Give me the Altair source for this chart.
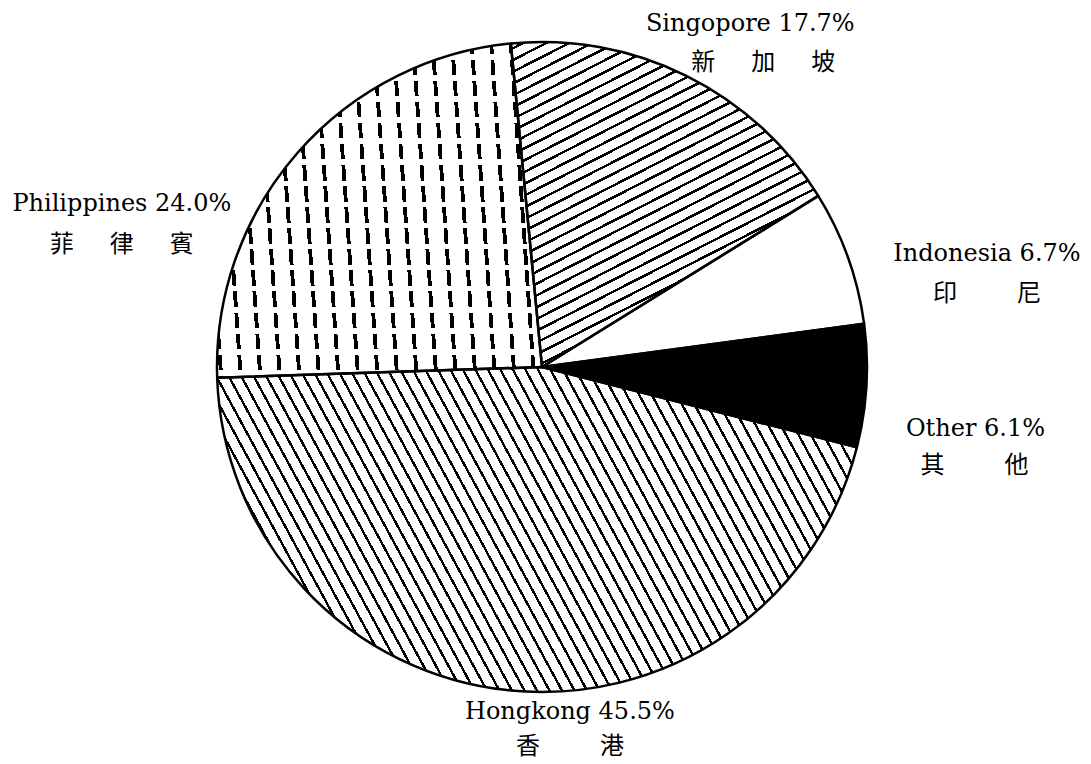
import math
import altair as alt
import pandas as pd

# ---- data ----
countries = ["Singapore", "Indonesia", "Other", "Hongkong", "Philippines"]
display_names = ["Singopore", "Indonesia", "Other", "Hongkong", "Philippines"]
shares = [17.7, 6.7, 6.1, 45.5, 24.0]
chinese_names = ["新加坡", "印尼", "其他", "香港", "菲律賓"]
order = [1, 2, 3, 4, 5]


def spaced(s):
    gap = "\u3000\u2002" if len(s) >= 3 else "\u3000\u3000\u2002"
    return gap.join(list(s))


df = pd.DataFrame({
    "country": countries,
    "share": shares,
    "order": order,
    "latin": [f"{n} {v:.1f}%" for n, v in zip(display_names, shares)],
    "chinese": [spaced(s) for s in chinese_names],
})

# ---- layout / style ----
CX, CY, R = 534, 359, 325
START = math.radians(-5.5)
theta_scale = alt.Scale(domain=[0, 100], range=[START, START + 2 * math.pi])


def hatch(w, h, phi_deg, spacing, thick, fg, bg):
    phi = math.radians(phi_deg)
    gx, gy = -math.sin(phi) / h, math.cos(phi) / w
    nrm = math.hypot(gx, gy)
    gx, gy = gx / nrm, gy / nrm
    corners = [(0, 0), (1, 0), (0, 1), (1, 1)]
    proj = [cx * gx + cy * gy for cx, cy in corners]
    pmin, pmax = min(proj), max(proj)
    c = corners[proj.index(pmin)]
    L = pmax - pmin
    x1, y1 = c
    x2, y2 = c[0] + gx * L, c[1] + gy * L
    du, dv = -math.sin(phi) / w, math.cos(phi) / h
    k = abs(du * gx + dv * gy) / L
    period, tw = spacing * k, thick * k
    stops = [{"offset": 0, "color": bg}]
    a = period * 0.5
    while a + tw < 1:
        stops += [
            {"offset": round(a, 5), "color": bg},
            {"offset": round(a, 5), "color": fg},
            {"offset": round(a + tw, 5), "color": fg},
            {"offset": round(a + tw, 5), "color": bg},
        ]
        a += period
    stops.append({"offset": 1, "color": bg})
    return {"gradient": "linear", "x1": x1, "y1": y1, "x2": x2, "y2": y2, "stops": stops}


fills = {
    "Singapore": hatch(308, 325, -27, 10.5, 2.5, "black", "white"),
    "Indonesia": "white",
    "Other": "black",
    "Hongkong": hatch(640, 325, 61.5, 11, 2.4, "black", "white"),
    "Philippines": hatch(325, 333, 86, 19.5, 3.8, "black", "white"),
}
dash_overlay = hatch(325, 333, 0, 21, 5.5, "white", "transparent")

label_offsets = {
    "Singapore": ((64, -51.5), (77, -12.5)),
    "Indonesia": ((139, -3.5), (139, 36.5)),
    "Other": ((109, 43.5), (108, 80.5)),
    "Hongkong": ((63, 21.5), (63, 56.5)),
    "Philippines": ((-176, 51.5), (-176, 92.5)),
}

base = alt.Chart(df).transform_window(
    cum="sum(share)", sort=[alt.SortField("order")], frame=[None, 0]
).transform_calculate(
    start="datum.cum - datum.share", mid="datum.cum - datum.share / 2"
)

arc_enc = dict(
    theta=alt.Theta("start:Q", scale=theta_scale),
    theta2="cum:Q",
    x=alt.value(CX),
    y=alt.value(CY),
)

layers = []
for c in countries:
    layers.append(
        base.transform_filter(alt.datum.country == c)
        .mark_arc(radius=R, fill=fills[c])
        .encode(**arc_enc)
    )

layers.append(
    base.transform_filter(alt.datum.country == "Philippines")
    .mark_arc(radius=R, fill=dash_overlay)
    .encode(**arc_enc)
)

layers.append(
    base.mark_arc(radius=R, filled=False, stroke="black", strokeWidth=2.5, strokeJoin="round")
    .encode(**arc_enc)
)

for c in countries:
    (ldx, ldy), (cdx, cdy) = label_offsets[c]
    sub = base.transform_filter(alt.datum.country == c)
    layers.append(
        sub.mark_text(
            radius=R, dx=ldx, dy=ldy, font="DejaVu Serif", fontSize=24,
            align="center", baseline="middle", color="black",
        ).encode(
            theta=alt.Theta("mid:Q", scale=theta_scale),
            text="latin:N", x=alt.value(CX), y=alt.value(CY),
        )
    )
    layers.append(
        sub.mark_text(
            radius=R, dx=cdx, dy=cdy, font="Noto Sans CJK TC", fontSize=24,
            align="center", baseline="middle", color="black",
        ).encode(
            theta=alt.Theta("mid:Q", scale=theta_scale),
            text="chinese:N", x=alt.value(CX), y=alt.value(CY),
        )
    )

chart = alt.layer(*layers).properties(
    width=1075, height=756, autosize="none", padding=0, background="white"
).configure_view(strokeWidth=0)

chart.save("out.html", embed_options={"renderer": "svg", "actions": False})
